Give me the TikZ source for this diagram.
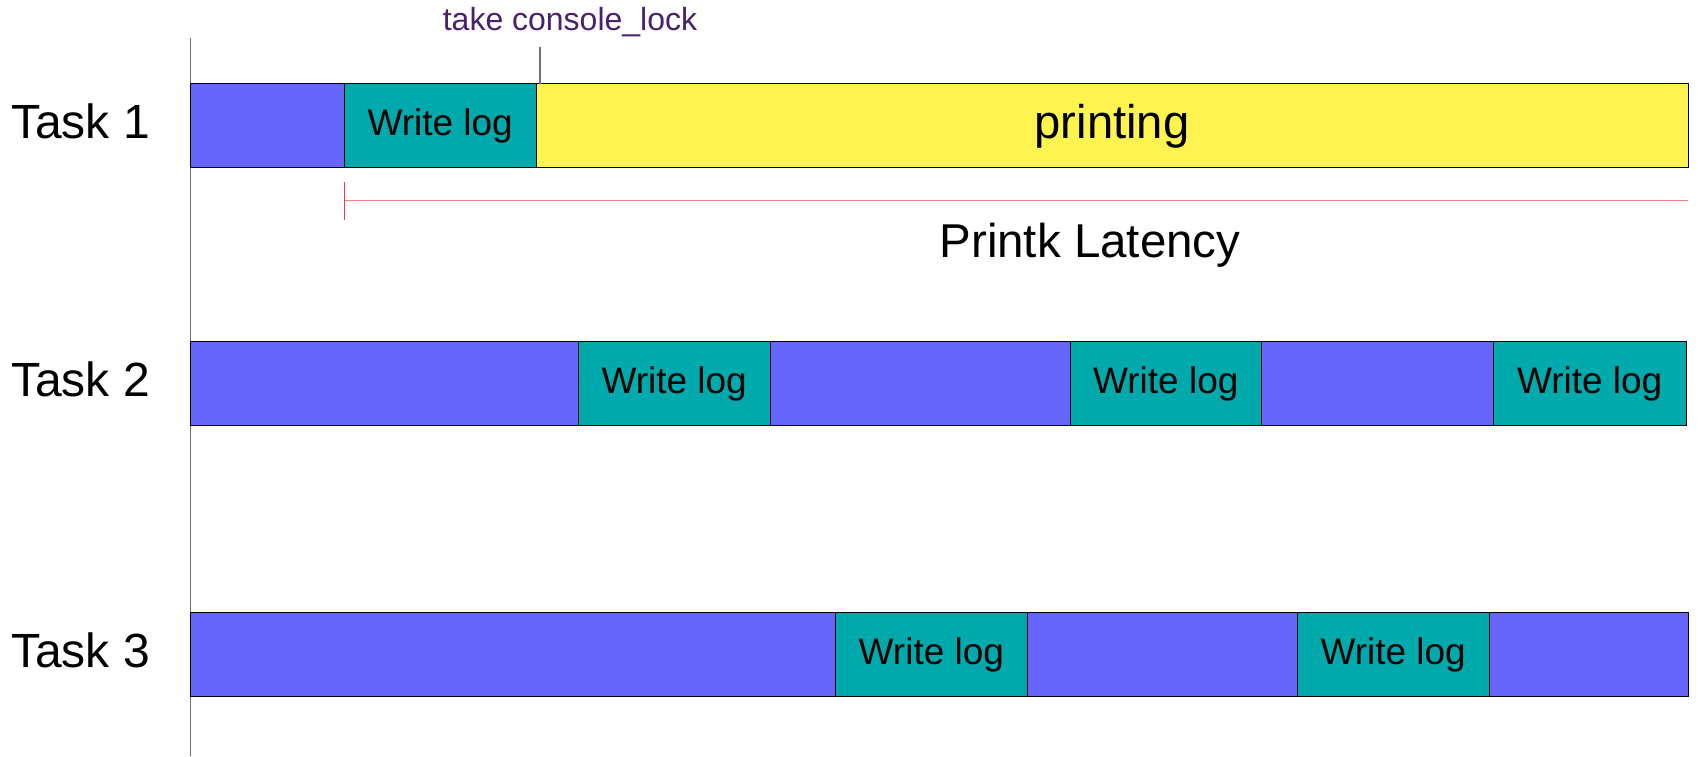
\documentclass[tikz,border=0pt]{standalone}
\usepackage{fontspec}
\setmainfont{Liberation Sans}
\definecolor{segblue}{HTML}{6666FF}
\definecolor{segteal}{HTML}{00A9AB}
\definecolor{segyellow}{HTML}{FFF350}
\definecolor{lockpurple}{HTML}{4A2070}
\definecolor{latred}{HTML}{F08080}
\definecolor{tickred}{HTML}{E84048}
\definecolor{axgrey}{HTML}{707070}
\begin{document}
\begin{tikzpicture}[x=1pt,y=-1pt,
  seg/.style={draw=black, line width=1pt, rectangle, inner sep=0pt, outer sep=0pt, anchor=west, minimum height=84pt},
  bseg/.style={seg, fill=segblue},
  tseg/.style={seg, fill=segteal, minimum width=192pt, font=\fontsize{37}{44}\selectfont, text height=26.5pt, text depth=7pt},
  yseg/.style={seg, fill=segyellow, font=\fontsize{47.2}{56}\selectfont, text height=33.8pt, text depth=8pt},
  tasklabel/.style={anchor=west, inner sep=0pt, font=\fontsize{48}{57}\selectfont, text height=34.4pt, text depth=8pt},
  axisline/.style={draw=axgrey, line width=1.4pt},
  latline/.style={draw=latred, line width=1.5pt},
  lattick/.style={draw=tickred, line width=1.3pt}
]
\useasboundingbox (0,0) rectangle (1698,756);

% time axis
\coordinate (axtop) at (190.6,38);
\coordinate (axbot) at (190.6,756);
\draw[axisline] (axtop) -- (axbot);

% Task 1
\node[tasklabel] (task1) at (11,125.6) {Task 1};
\node[bseg, minimum width=153.8pt] (t1a) at (190.6,125.6) {};
\node[tseg, minimum width=191.6pt] (t1b) at (t1a.east) {Write log};
\node[yseg, minimum width=1152pt] (t1c) at (t1b.east) {printing};

% console lock marker
\coordinate (lk) at (540,46.5);
\draw[axisline] (lk) -- (lk |- t1c.north);
\node[anchor=base, inner sep=0pt, text=lockpurple, font=\fontsize{32}{38}\selectfont] (lockl) at (570,30) {take console\_lock};

% printk latency
\coordinate (latstart) at (344.4,200.3);
\coordinate (latend) at (1688,200.3);
\coordinate (lattop) at (344.4,182);
\coordinate (latbot) at (344.4,220);
\draw[latline] (latstart) -- (latend);
\draw[lattick] (lattop) -- (latbot);
\node[inner sep=0pt, font=\fontsize{47.5}{57}\selectfont, text height=34pt, text depth=0pt] (latl) at (1090,240.7) {Printk Latency};

% Task 2
\node[tasklabel] (task2) at (11,383.3) {Task 2};
\node[bseg, minimum width=387.7pt] (t2a) at (190.6,383.3) {};
\node[tseg, minimum width=191.7pt] (t2b) at (t2a.east) {Write log};
\node[bseg, minimum width=300pt] (t2c) at (t2b.east) {};
\node[tseg, minimum width=191.6pt] (t2d) at (t2c.east) {Write log};
\node[bseg, minimum width=231.7pt] (t2e) at (t2d.east) {};
\node[tseg, minimum width=192.7pt] (t2f) at (t2e.east) {Write log};

% Task 3
\node[tasklabel] (task3) at (11,654.5) {Task 3};
\node[bseg, minimum width=644.4pt] (t3a) at (190.6,654.5) {};
\node[tseg, minimum width=192.7pt] (t3b) at (t3a.east) {Write log};
\node[bseg, minimum width=269.6pt] (t3c) at (t3b.east) {};
\node[tseg, minimum width=191.7pt] (t3d) at (t3c.east) {Write log};
\node[bseg, minimum width=199pt] (t3e) at (t3d.east) {};
\end{tikzpicture}
\end{document}
